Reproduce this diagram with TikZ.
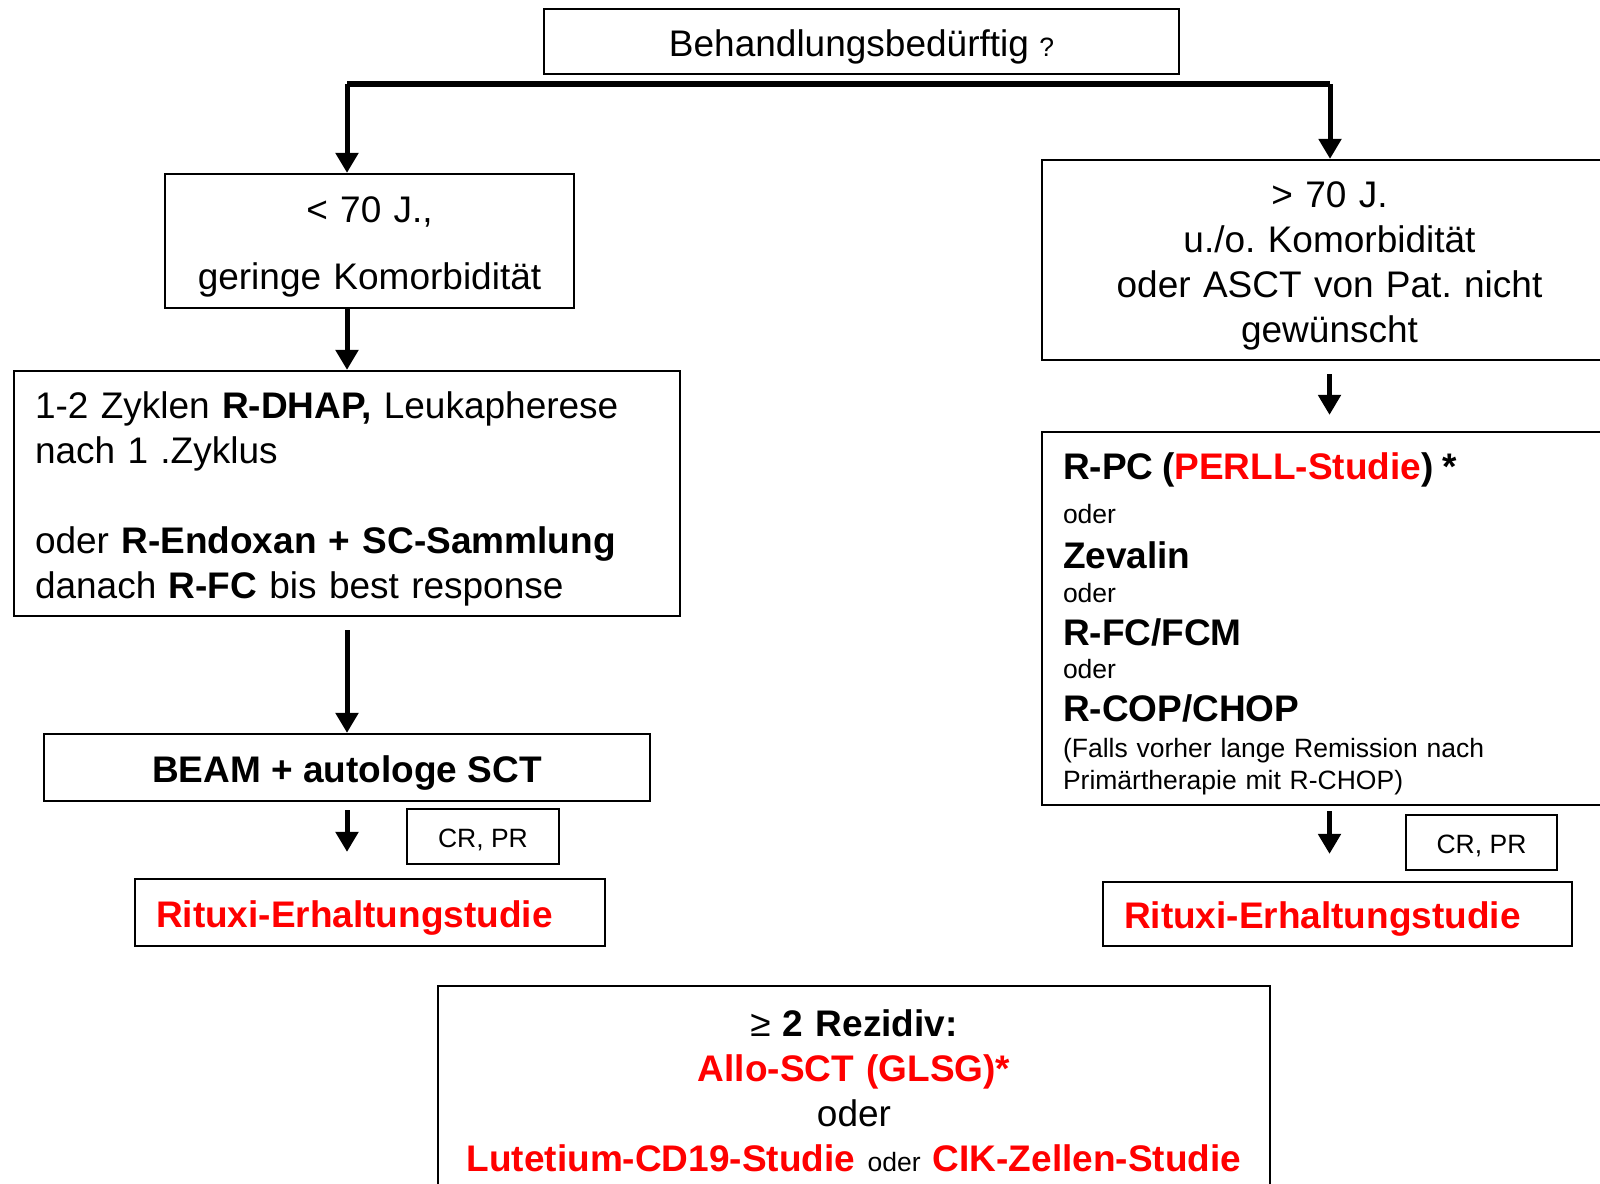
\documentclass[tikz,border=0pt]{standalone}
\usepackage{fontspec}
\setmainfont{Liberation Sans}
\usetikzlibrary{arrows.meta}
\frenchspacing
\newcommand{\boxfont}{\fontsize{18.5pt}{22.5pt}\selectfont}
\newcommand{\notefont}{\fontsize{13.25pt}{16pt}\selectfont}

\begin{document}
\begin{tikzpicture}[
		x=0.5pt, y=-0.5pt,
		frame/.style={draw, line width=1.1pt, inner sep=0pt},
		box/.style={frame, font=\boxfont, execute at begin node={\rule{0pt}{18.5pt}}},
		leftbox/.style={box, inner xsep=10.5pt, align=left},
		crbox/.style={frame, font=\notefont, minimum height=27.5pt, execute at begin node={\rule{0pt}{12.5pt}}},
		arr/.style={line width=2.5pt, -{Triangle[width=11pt,length=10pt]}},
		bar/.style={line width=3.2pt}
	]
	\useasboundingbox (0,0) rectangle (1600,1183);
	\clip (0,0) rectangle (1600,1183);
	\fill[white] (0,0) rectangle (1600,1183);

	\node[box, minimum width=317.5pt, minimum height=32.5pt] (need) at (861.5,41.5) {Behandlungsbedürftig {\notefont ?}};
	\coordinate (barl) at (347,84);
	\coordinate (barr) at (1330,84);

	\node[box, align=center, text width=204.5pt, minimum height=67pt] (young) at (369.5,241)
		{< 70 J.,\\[11pt]geringe Komorbidität};
	\node[leftbox, text width=312pt, minimum width=333pt, minimum height=122.5pt] (dhap) at (347,493.5)
		{1-2 Zyklen \textbf{R-DHAP,} Leukapherese\\
		nach 1 .Zyklus\\[22.5pt]
		oder \textbf{R-Endoxan + SC-Sammlung}\\
		danach \textbf{R-FC} bis best response};
	\node[box, minimum width=303pt, minimum height=33.5pt] (beam) at (347,767.5) {\textbf{BEAM + autologe SCT}};
	\node[crbox, minimum width=76pt] (crleft) at (483,836.5) {CR, PR};
	\node[leftbox, text width=214pt, minimum width=235pt, minimum height=33.5pt] (rituxileft) at (370,912.5)
		{\textcolor{red}{\textbf{Rituxi-Erhaltungstudie}}};

	\node[box, align=center, text width=287.5pt, minimum height=100pt] (old) at (1329.5,260)
		{> 70 J.\\u./o. Komorbidität\\oder ASCT von Pat. nicht\\gewünscht};
	\node[leftbox, font=\notefont, text width=266.5pt, minimum width=287.5pt, minimum height=186.5pt] (rpc) at (1329.5,618.5)
		{{\boxfont\bfseries R-PC (\textcolor{red}{PERLL-Studie}) *}\\[6pt]
		oder\\[6.5pt]
		{\boxfont\bfseries Zevalin}\\[1pt]
		oder\\[5.5pt]
		{\boxfont\bfseries R-FC/FCM}\\[0.5pt]
		oder\\[5.5pt]
		{\boxfont\bfseries R-COP/CHOP}\\[2pt]
		(Falls vorher lange Remission nach\\
		Primärtherapie mit R-CHOP)};
	\node[crbox, minimum width=75.5pt] (crright) at (1481.5,842.5) {CR, PR};
	\node[leftbox, text width=213.5pt, minimum width=234.5pt, minimum height=32pt] (rituxiright) at (1337.5,914)
		{\textcolor{red}{\textbf{Rituxi-Erhaltungstudie}}};

	\node[box, align=center, text width=416pt, minimum height=100pt] (relapse) at (854,1086)
		{≥ \textbf{2 Rezidiv:}\\
		\textcolor{red}{\textbf{Allo-SCT (GLSG)*}}\\
		oder\\
		\textcolor{red}{\textbf{Lutetium-CD19-Studie}} {\notefont oder} \textcolor{red}{\textbf{CIK-Zellen-Studie}}};

	\draw[bar] (barl) -- (barr);
	\draw[arr] (barl) -- (barl |- young.north);
	\draw[arr] (barr) -- (barr |- old.north);
	\draw[arr] (dhap.north |- young.south) -- (dhap.north);
	\draw[arr, shorten <=6.5pt] (dhap.south) -- (beam.north);
	\draw[arr, shorten <=4pt, shorten >=13pt] (beam.south) -- (beam.south |- rituxileft.north);
	\draw[arr, shorten <=6.5pt, shorten >=8pt] (old.south) -- (rpc.north);
	\draw[arr, shorten <=2.5pt, shorten >=13.5pt] (rpc.south) -- (rpc.south |- rituxiright.north);
\end{tikzpicture}
\end{document}
